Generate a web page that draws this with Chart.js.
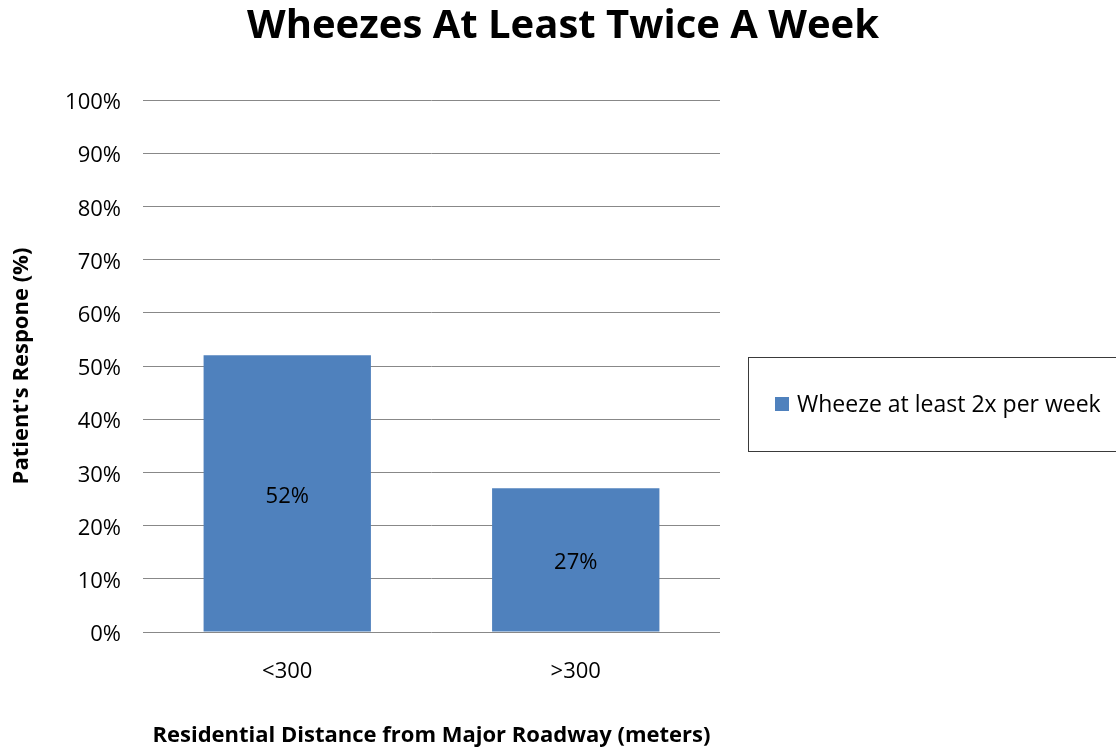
<!DOCTYPE html>
<html>
<head>
<meta charset="utf-8">
<script src="https://cdn.jsdelivr.net/npm/chart.js@4"></script>
<style>
  html, body { margin: 0; padding: 0; background: #fff; }
  #wrap { width: 1116px; height: 751px; }
</style>
</head>
<body>
<div id="wrap"><canvas id="c" width="1116" height="751"></canvas></div>
<script>
const categories = ['<300', '>300'];
const seriesName = 'Wheeze at least 2x per week';
const wheezeValues = [52, 27];
const yTicks = [0, 10, 20, 30, 40, 50, 60, 70, 80, 90, 100];
const chartTitle = 'Wheezes At Least Twice A Week';

const FONT = '"Open Sans", "Liberation Sans", sans-serif';
const BAR = '#4F81BD';

// Title centred across the whole canvas (not just the plot)
const wideTitle = {
  id: 'wideTitle',
  afterDraw(chart) {
    const ctx = chart.ctx;
    ctx.save();
    ctx.font = 'bold 40px ' + FONT;
    ctx.fillStyle = '#000';
    ctx.textAlign = 'center';
    ctx.textBaseline = 'alphabetic';
    ctx.fillText(chartTitle, chart.width / 2 + 5, 38);
    ctx.restore();
  }
};

// Percent labels centred inside each bar
const barLabels = {
  id: 'barLabels',
  afterDatasetsDraw(chart) {
    const ctx = chart.ctx;
    const meta = chart.getDatasetMeta(0);
    ctx.save();
    ctx.font = '22px ' + FONT;
    ctx.fillStyle = '#000';
    ctx.textAlign = 'center';
    ctx.textBaseline = 'middle';
    meta.data.forEach((bar, i) => {
      const v = chart.data.datasets[0].data[i];
      ctx.fillText(v + '%', bar.x, (bar.y + bar.base) / 2 + 3);
    });
    ctx.restore();
  }
};

// Boxed legend to the right of the plot
const boxLegend = {
  id: 'boxLegend',
  afterDraw(chart) {
    const ctx = chart.ctx;
    const ds = chart.data.datasets[0];
    const left = chart.chartArea.right + 28;
    const top = 357, bottom = 451;
    ctx.save();
    ctx.strokeStyle = '#3a3a3a';
    ctx.lineWidth = 1;
    ctx.strokeRect(left + 0.5, top + 0.5, chart.width + 10 - left, bottom - top);
    const midY = (top + bottom) / 2;
    ctx.fillStyle = ds.backgroundColor;
    ctx.fillRect(left + 27, midY - 7, 14, 14);
    ctx.fillStyle = '#000';
    ctx.font = '23px ' + FONT;
    ctx.textAlign = 'left';
    ctx.textBaseline = 'middle';
    ctx.fillText(ds.label, left + 49, midY + 1);
    ctx.restore();
  }
};

new Chart(document.getElementById('c'), {
  type: 'bar',
  data: {
    labels: categories,
    datasets: [{
      label: seriesName,
      data: wheezeValues,
      backgroundColor: BAR,
      borderWidth: 0,
      barPercentage: 0.58,
      categoryPercentage: 1.0
    }]
  },
  options: {
    responsive: false,
    animation: false,
    devicePixelRatio: 1,
    layout: { padding: { left: 0, right: 396, top: 100, bottom: 0 } },
    plugins: {
      legend: { display: false },
      tooltip: { enabled: false },
      title: { display: false }
    },
    scales: {
      x: {
        grid: { display: false, drawTicks: false },
        border: { display: false },
        ticks: { color: '#000', font: { family: FONT, size: 22 }, padding: 27 },
        title: {
          display: true,
          text: 'Residential Distance from Major Roadway (meters)',
          color: '#000',
          font: { family: FONT, size: 22, weight: 'bold', lineHeight: 1.2 },
          padding: { top: 0, bottom: 2 }
        },
        afterFit(scale) { scale.height = 119; }
      },
      y: {
        min: 0,
        max: 100,
        afterBuildTicks(scale) { scale.ticks = yTicks.map(v => ({ value: v })); },
        grid: { color: '#888', lineWidth: 1, drawTicks: false },
        border: { display: false },
        ticks: {
          color: '#000',
          font: { family: FONT, size: 22 },
          padding: 22,
          labelOffset: 3,
          callback: v => v + '%'
        },
        title: {
          display: true,
          text: "Patient's Respone (%)",
          color: '#000',
          font: { family: FONT, size: 22, weight: 'bold', lineHeight: 1.2 },
          padding: { top: 9, bottom: 0 }
        },
        afterFit(scale) { scale.width = 143; }
      }
    }
  },
  plugins: [barLabels, boxLegend, wideTitle]
});
</script>
</body>
</html>
